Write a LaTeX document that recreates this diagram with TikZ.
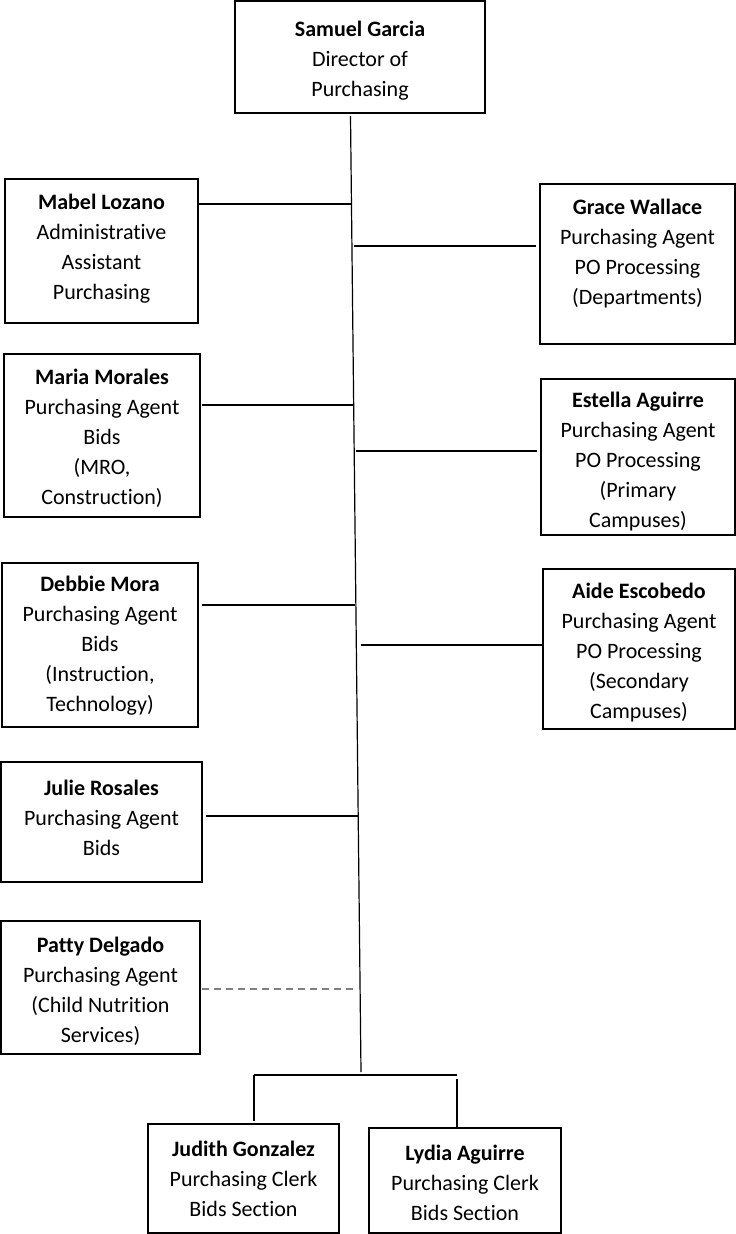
\documentclass[tikz,border=0pt]{standalone}
\usepackage{fontspec}
\setmainfont{Carlito}[Ligatures={NoCommon}]
\begin{document}
\begin{tikzpicture}[x=1pt,y=-1pt,
  box/.style={draw, line width=1.3pt, inner sep=0pt},
  txt/.style={align=center, inner sep=0pt, font=\fontsize{22}{30}\selectfont},
  link/.style={line width=1.2pt},
  dotlink/.style={line width=1.2pt, draw=black!50, dash pattern=on 7pt off 5pt}]
\useasboundingbox (0,0) rectangle (736,1234);
% boxes
\node[box, minimum width=250pt, minimum height=112pt] (samuel) at (360,57) {};
\node[box, minimum width=193pt, minimum height=144pt] (mabel) at (101.5,251) {};
\node[box, minimum width=195pt, minimum height=160pt] (grace) at (637.5,264) {};
\node[box, minimum width=196pt, minimum height=163pt] (maria) at (102,435.5) {};
\node[box, minimum width=194pt, minimum height=156pt] (estella) at (638,457) {};
\node[box, minimum width=196pt, minimum height=164pt] (debbie) at (100,645) {};
\node[box, minimum width=192pt, minimum height=160pt] (aide) at (639,649) {};
\node[box, minimum width=201pt, minimum height=120pt] (julie) at (101.5,822) {};
\node[box, minimum width=199pt, minimum height=133pt] (patty) at (100.5,987.5) {};
\node[box, minimum width=191pt, minimum height=109pt] (judith) at (243.5,1178.5) {};
\node[box, minimum width=192pt, minimum height=105pt] (lydia) at (465,1180.5) {};
% texts
\node[txt] (samuelT) at (360,61) {\textbf{Samuel Garcia}\\Director of\\Purchasing};
\node[txt] (mabelT) at (101.5,249) {\textbf{Mabel Lozano}\\Administrative\\Assistant\\Purchasing};
\node[txt] (graceT) at (637.5,254) {\textbf{Grace Wallace}\\Purchasing Agent\\PO Processing\\(Departments)};
\node[txt] (mariaT) at (102,438) {\textbf{Maria Morales}\\Purchasing Agent\\Bids\\(MRO,\\Construction)};
\node[txt] (estellaT) at (638,462) {\textbf{Estella Aguirre}\\Purchasing Agent\\PO Processing\\(Primary\\Campuses)};
\node[txt] (debbieT) at (100,646) {\textbf{Debbie Mora}\\Purchasing Agent\\Bids\\(Instruction,\\Technology)};
\node[txt] (aideT) at (639,653) {\textbf{Aide Escobedo}\\Purchasing Agent\\PO Processing\\(Secondary\\Campuses)};
\node[txt] (julieT) at (101.5,818) {\textbf{Julie Rosales}\\Purchasing Agent\\Bids};
\node[txt] (pattyT) at (100.5,991) {\textbf{Patty Delgado}\\Purchasing Agent\\(Child Nutrition\\Services)};
\node[txt] (judithT) at (243.5,1179) {\textbf{Judith Gonzalez}\\Purchasing Clerk\\Bids Section};
\node[txt] (lydiaT) at (465,1183) {\textbf{Lydia Aguirre}\\Purchasing Clerk\\Bids Section};
% trunk
\coordinate (ttop) at (350.5,116);
\coordinate (tbot) at (361,1072);
\draw[link] (ttop) -- (tbot);
% junctions on trunk
\coordinate (jmabel) at (351.5,204);
\coordinate (jgrace) at (354,246);
\coordinate (jmaria) at (353.5,405);
\coordinate (jestella) at (356,451);
\coordinate (jdebbie) at (354.5,605);
\coordinate (jaide) at (361,645);
\coordinate (jjulie) at (358.5,816);
\coordinate (jpatty) at (354,989);
\draw[link] (mabel.east |- jmabel) -- (jmabel);
\draw[link, shorten >=3pt] (jgrace) -- (grace.west |- jgrace);
\draw[link, shorten <=1pt] (maria.east |- jmaria) -- (jmaria);
\draw[link, shorten >=3pt] (jestella) -- (estella.west |- jestella);
\draw[link, shorten <=3pt] (debbie.east |- jdebbie) -- (jdebbie);
\draw[link] (jaide) -- (aide.west |- jaide);
\draw[link, shorten <=3pt] (julie.east |- jjulie) -- (jjulie);
\draw[dotlink, shorten <=1pt] (patty.east |- jpatty) -- (jpatty);
% bottom bar
\coordinate (bl) at (254,1075);
\coordinate (br) at (457,1075);
\coordinate (br2) at (457,1079);
\draw[link] (bl) -- (br);
\draw[link, shorten >=2pt] (bl) -- (bl |- judith.north);
\draw[link] (br2) -- (br2 |- lydia.north);
\end{tikzpicture}
\end{document}
